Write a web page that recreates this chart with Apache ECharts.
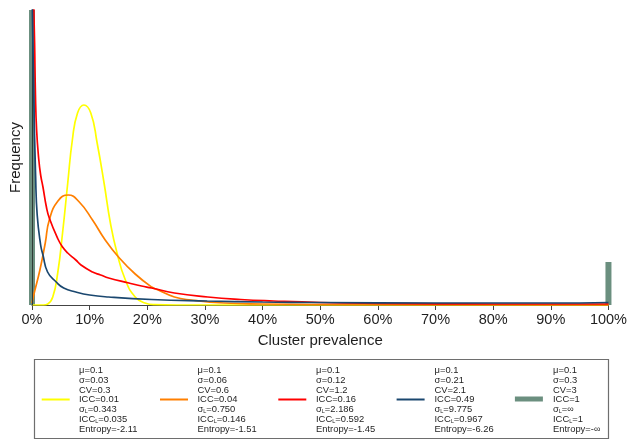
<!DOCTYPE html>
<html>
<head>
<meta charset="utf-8">
<script src="https://cdn.jsdelivr.net/npm/echarts@6/dist/echarts.min.js"></script>
<style>
html,body{margin:0;padding:0;background:#fff;}
#chart{width:630px;height:441px;}
</style>
</head>
<body>
<div id="chart"></div>
<script>
// ---- data (x in %, y = relative frequency) ----
var xTicks = [0,10,20,30,40,50,60,70,80,90,100];

var yellowX = [0, 2, 2.74, 3.6, 4.46, 5.3, 6.2, 7.0, 7.9, 9.0, 10.2, 11.3, 12.5, 13.6, 14.75, 16.2, 17.9, 19.6, 21.3, 25, 100];
var yellowY = [0, 0, 1, 8, 32, 72, 122, 165, 192, 200, 192, 162, 122, 82, 52, 25, 8, 2, 0.3, 0, 0];

var orangeX = [0, 0.3, 1.37, 2.3, 3.0, 4.5, 6.3, 8.2, 10.5, 12.7, 15.0, 17.9, 20.75, 21.9, 24.7, 27.6, 33.3, 40, 50, 100];
var orangeY = [2, 10, 35, 62, 85, 104, 110, 103, 85, 65, 48, 31, 18, 15, 8, 5, 2, 1, 0.5, 0];

var redX = [0.3, 0.45, 0.6, 0.8, 1.15, 1.5, 1.9, 2.5, 3.0, 4.5, 5.3, 6.2, 7.6, 8.5, 10.5, 11.9, 13.3, 16.8, 19, 20.75, 24.7, 30.5, 36.2, 41.9, 50, 60, 70, 80, 90, 100];
var redY = [300, 262, 210, 175, 147, 130, 118, 98, 87, 66, 58, 52, 45, 40, 33, 30, 27, 22, 19, 17, 12, 8, 5.5, 4, 2.5, 1.6, 1.2, 1, 1, 1];

var navyX = [0.05, 0.3, 0.63, 0.9, 1.5, 1.9, 2.7, 4.2, 5.5, 7.6, 10, 13.3, 20.75, 30.4, 40, 50, 70, 90, 100];
var navyY = [300, 210, 128, 90, 60, 50, 33, 23, 17, 13, 10, 8, 5.5, 4, 3, 2.5, 2, 2, 2.5];

var barX = [0, 100];
var barY = [295, 43];

var seriesNames = ['ICC=0.01', 'ICC=0.04', 'ICC=0.16', 'ICC=0.49', 'ICC=1'];
var muVals = ['0.1', '0.1', '0.1', '0.1', '0.1'];
var sdVals = ['0.03', '0.06', '0.12', '0.21', '0.3'];
var cvVals = ['0.3', '0.6', '1.2', '2.1', '3'];
var iccVals = ['0.01', '0.04', '0.16', '0.49', '1'];
var sdLVals = ['0.343', '0.750', '2.186', '9.775', '∞'];
var iccLVals = ['0.035', '0.146', '0.592', '0.967', '1'];
var entropyVals = ['-2.11', '-1.51', '-1.45', '-6.26', '-∞'];

// ---- styles ----
var colors = ['#ffff00', '#ff7f00', '#ff0000', '#1a476f', '#6b8f7f'];
var FONT = 'Liberation Sans, Arial, sans-serif';

function zip(xs, ys) { return xs.map(function (x, i) { return [x, ys[i]]; }); }

var chart = echarts.init(document.getElementById('chart'), null, {renderer: 'canvas'});

var lineSeries = [[yellowX, yellowY], [orangeX, orangeY], [redX, redY], [navyX, navyY]].map(function (d, i) {
  return {
    name: seriesNames[i],
    type: 'line',
    data: zip(d[0], d[1]),
    smooth: 0.5,
    showSymbol: false,
    symbol: 'none',
    clip: true,
    lineStyle: {color: colors[i], width: 1.7},
    itemStyle: {color: colors[i]},
    z: 3 + i,
    animation: false
  };
});

var barSeries = {
  name: seriesNames[4],
  type: 'bar',
  data: zip(barX, barY),
  barWidth: 6,
  clip: false,
  itemStyle: {color: colors[4]},
  z: 2,
  animation: false
};

// legend drawn as graphic elements
var graphics = [{
  type: 'rect',
  shape: {x: 34.5, y: 359.5, width: 574, height: 79},
  style: {fill: '#fff', stroke: '#6e6e6e', lineWidth: 1.2},
  z: 10
}];
for (var i = 0; i < 5; i++) {
  var ix = 41.7 + i * 118.3;
  if (i < 4) {
    graphics.push({
      type: 'line',
      shape: {x1: ix, y1: 399.5, x2: ix + 28, y2: 399.5},
      style: {stroke: colors[i], lineWidth: 2},
      z: 11
    });
  } else {
    graphics.push({
      type: 'rect',
      shape: {x: ix, y: 396.5, width: 28, height: 5},
      style: {fill: colors[i]},
      z: 11
    });
  }
  var txt = [
    'μ=' + muVals[i],
    'σ=' + sdVals[i],
    'CV=' + cvVals[i],
    'ICC=' + iccVals[i],
    'σ{s|L}=' + sdLVals[i],
    'ICC{s|L}=' + iccLVals[i],
    'Entropy=' + entropyVals[i]
  ].join('\n');
  graphics.push({
    type: 'text',
    x: 79 + i * 118.5,
    y: 365.4,
    z: 11,
    style: {
      text: txt,
      fill: '#1e1e1e',
      fontSize: 9.4,
      fontFamily: FONT,
      lineHeight: 9.83,
      align: 'left',
      verticalAlign: 'top',
      rich: {
        s: {fontSize: 5.5, lineHeight: 5, verticalAlign: 'bottom', fill: '#1e1e1e', fontFamily: FONT}
      }
    }
  });
}

var option = {
  backgroundColor: '#ffffff',
  animation: false,
  grid: {left: 29, right: 17.3, top: 10, bottom: 136, containLabel: false},
  xAxis: {
    type: 'value',
    min: 0, max: 100, interval: 10,
    name: 'Cluster prevalence',
    nameLocation: 'middle',
    nameGap: 28,
    nameTextStyle: {fontSize: 15, color: '#1e1e1e', fontFamily: FONT},
    axisLine: {show: true, lineStyle: {color: '#444', width: 1}},
    axisTick: {show: true, length: 5, lineStyle: {color: '#444', width: 1}},
    axisLabel: {
      fontSize: 14.5, color: '#1e1e1e', fontFamily: FONT, margin: 7,
      formatter: function (v) { return xTicks.indexOf(v) >= 0 ? v + '%' : ''; }
    },
    splitLine: {show: false}
  },
  yAxis: {
    type: 'value',
    min: 0, max: 295,
    name: 'Frequency',
    nameLocation: 'middle',
    nameGap: 9,
    nameTextStyle: {fontSize: 15, color: '#1e1e1e', fontFamily: FONT},
    axisLine: {show: true, lineStyle: {color: '#2f3b36', width: 1}},
    axisTick: {show: false},
    axisLabel: {show: false},
    splitLine: {show: false},
    z: 5
  },
  series: [barSeries].concat(lineSeries),
  graphic: graphics
};
chart.setOption(option);
</script>
</body>
</html>
